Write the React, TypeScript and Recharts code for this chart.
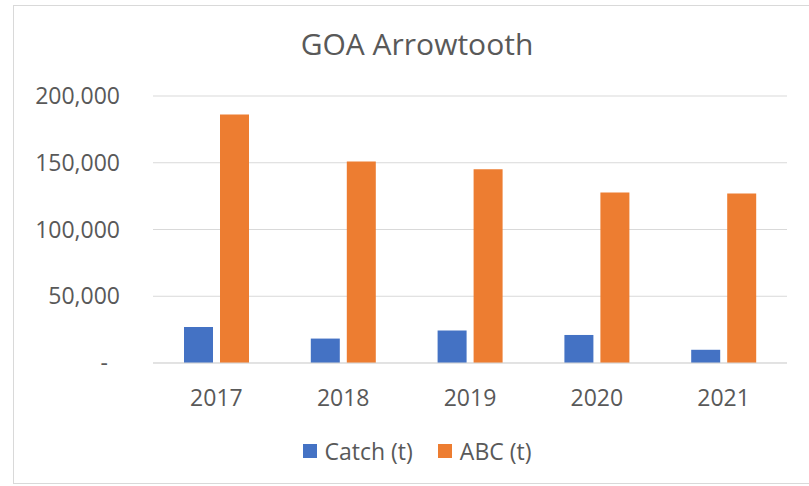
import { Bar, BarChart, CartesianGrid, XAxis, YAxis } from 'recharts'

const years = ['2017', '2018', '2019', '2020', '2021']
const catchValues = [26900, 18300, 24300, 21000, 9900]
const abcValues = [186100, 151000, 145200, 127800, 126900]
const yTicks = [0, 50000, 100000, 150000, 200000]

const data = years.map((year, i) => ({
  year,
  catch: catchValues[i],
  abc: abcValues[i],
}))

const FONT = '"Open Sans", "Noto Sans", sans-serif'
const TEXT = '#595959'
const GRID = '#d9d9d9'
const BLUE = '#4472C4'
const ORANGE = '#ED7D31'

const series = [
  { key: 'catch', name: 'Catch (t)', color: BLUE },
  { key: 'abc', name: 'ABC (t)', color: ORANGE },
]

function YTick(props: any) {
  const { x, y, payload } = props
  const v = payload.value as number
  const label = v === 0 ? '-' : v.toLocaleString('en-US')
  return (
    <text
      x={v === 0 ? x - 12 : x}
      y={y}
      dy="0.355em"
      textAnchor="end"
      fill={TEXT}
      fontSize={23}
      fontFamily={FONT}
    >
      {label}
    </text>
  )
}

export default function App() {
  return (
    <div
      style={{
        position: 'absolute',
        left: 0,
        top: 0,
        width: 809,
        height: 486,
        overflow: 'hidden',
        background: '#fff',
      }}
    >
      <div
        style={{
          position: 'absolute',
          left: 13,
          top: 5,
          width: 808,
          height: 479,
          border: `1px solid ${GRID}`,
          boxSizing: 'border-box',
        }}
      >
        <div
          style={{
            position: 'absolute',
            left: 0,
            top: 17,
            width: 806,
            textAlign: 'center',
            fontFamily: FONT,
            fontSize: 30,
            color: TEXT,
            lineHeight: '42px',
          }}
        >
          GOA Arrowtooth
        </div>
        <BarChart
          width={806}
          height={477}
          data={data}
          margin={{ top: 90, right: 33, left: 0, bottom: 90 }}
          barSize={29}
          barGap={7}
        >
          <CartesianGrid vertical={false} stroke={GRID} />
          <XAxis
            dataKey="year"
            axisLine={{ stroke: GRID }}
            tickLine={false}
            tickSize={0}
            tickMargin={27}
            tick={{ fill: TEXT, fontSize: 23, fontFamily: FONT }}
          />
          <YAxis
            width={139}
            domain={[0, 200000]}
            ticks={yTicks}
            axisLine={false}
            tickLine={false}
            tickSize={0}
            tickMargin={33}
            tick={<YTick />}
          />
          {series.map((s) => (
            <Bar
              key={s.key}
              dataKey={s.key}
              name={s.name}
              fill={s.color}
              isAnimationActive={false}
            />
          ))}
        </BarChart>
        <div
          style={{
            position: 'absolute',
            left: 0,
            top: 430,
            width: 806,
            display: 'flex',
            justifyContent: 'center',
            alignItems: 'center',
            fontFamily: FONT,
            fontSize: 23,
            color: TEXT,
            lineHeight: '30px',
          }}
        >
          {series.map((s, i) => (
            <div
              key={s.key}
              style={{ display: 'flex', alignItems: 'center', marginLeft: i ? 25 : 0 }}
            >
              <span
                style={{ width: 14, height: 14, background: s.color, marginRight: 8 }}
              />
              <span>{s.name}</span>
            </div>
          ))}
        </div>
      </div>
    </div>
  )
}
